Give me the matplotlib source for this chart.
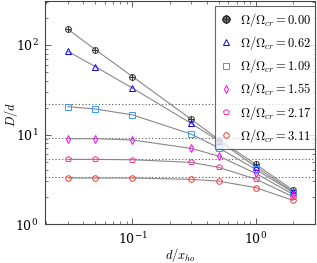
import numpy as np
import matplotlib
matplotlib.use("Agg")
import matplotlib.pyplot as plt

plt.rcParams['mathtext.fontset'] = 'cm'
plt.rcParams['font.family'] = 'serif'
plt.rcParams['font.serif'] = ['DejaVu Serif']

# d / x_ho
x = [0.03, 0.05, 0.1, 0.3, 0.5, 1.0, 2.0]

# D/d for each rotation ratio
omega_labels = ["0.00", "0.62", "1.09", "1.55", "2.17", "3.11"]
d_000 = [150, 89, 44.5, 14.8, 8.8, 4.65, 2.40]
d_062 = [85, 57.5, 33, 13.3, 8.5, 4.37, 2.30]
d_109 = [20.5, 19.3, 16.6, 10.1, 7.1, 4.08, 2.26]
d_155 = [9.0, 9.0, 8.7, 7.0, 5.75, 3.68, 2.15]
d_217 = [5.28, 5.28, 5.23, 4.89, 4.30, 3.18, 2.02]
d_311 = [3.27, 3.27, 3.27, 3.16, 3.02, 2.55, 1.84]
series = [d_000, d_062, d_109, d_155, d_217, d_311]

# plateau levels (dotted)
plateaus = [21.9, 9.2, 5.33, 3.33]

colors = ['#333333', '#0000ff', '#3399ff', '#ff00ff', '#ff3399', '#ff3333']
markers = ['$\\oplus$', '^', 's', 'd', 'p', 'o']


def main():
    fig = plt.figure(figsize=(3.17, 2.63), dpi=100)
    ax = fig.add_axes([0.143, 0.148, 0.852, 0.848])

    for p in plateaus:
        ax.axhline(p, color='#555555', linestyle=(0, (1, 2)), linewidth=0.8, zorder=1)

    for vals, c, m, lab in zip(series, colors, markers, omega_labels):
        ax.plot(x, vals, color='#888888', linewidth=0.8, zorder=2)
        if m == '$\\oplus$':
            ax.plot(x, vals, linestyle='none', marker='o', markersize=4.2,
                    markerfacecolor='none', markeredgecolor=c, markeredgewidth=0.7, zorder=3)
            ax.plot(x, vals, linestyle='none', marker='+', markersize=4.2,
                    color=c, markeredgewidth=0.7, zorder=3)
            ax.plot([], [], linestyle='none', marker=m, markersize=5.0, color=c,
                    label=r'$\Omega/\Omega_{cr} = %s$' % lab)
        else:
            ax.plot(x, vals, linestyle='none', marker=m, markersize=4.0,
                    markerfacecolor='none', markeredgecolor=c, markeredgewidth=0.7,
                    zorder=3, label=r'$\Omega/\Omega_{cr} = %s$' % lab)

    ax.set_xscale('log')
    ax.set_yscale('log')
    ax.set_xlim(0.0197, 3.04)
    ax.set_ylim(1, 310)

    ax.tick_params(which='both', direction='in', top=True, right=True,
                   colors='#444444', labelcolor='black', labelsize=9)
    ax.tick_params(which='major', length=4, width=0.6, pad=5)
    ax.tick_params(which='minor', length=2.5, width=0.5)
    for s in ax.spines.values():
        s.set_color('#444444')
        s.set_linewidth(0.8)

    ax.set_xlabel(r'$d/x_{ho}$', fontsize=9)
    ax.set_ylabel(r'$D/d$', fontsize=9)
    ax.xaxis.set_label_coords(0.5, -0.1)
    ax.yaxis.set_label_coords(-0.094, 0.49)

    leg = ax.legend(loc='upper right', bbox_to_anchor=(1.0, 0.977), fontsize=9,
                    frameon=True, fancybox=False, handlelength=1.0,
                    handletextpad=0.6, borderpad=0.35, labelspacing=0.42,
                    borderaxespad=0.0)
    leg.get_frame().set_edgecolor('#444444')
    leg.get_frame().set_linewidth(0.8)

    fig.savefig('out.png', dpi=100)


if __name__ == '__main__':
    main()
